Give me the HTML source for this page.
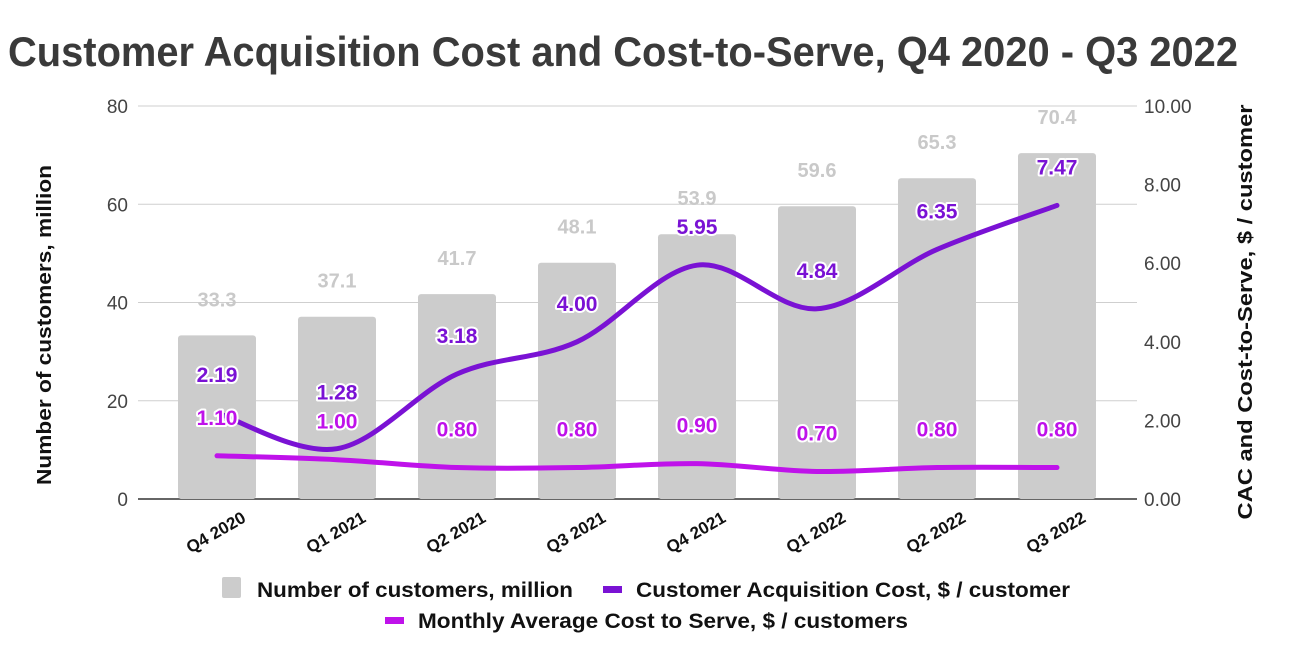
<!DOCTYPE html>
<html><head><meta charset="utf-8"><style>
body{margin:0;background:#fff;}
svg{display:block;font-family:"Liberation Sans",sans-serif;}
</style></head><body>
<svg id="chart" width="1292" height="667" viewBox="0 0 1292 667" xmlns="http://www.w3.org/2000/svg">
<text x="8" y="66" font-size="42" font-weight="bold" fill="#3a3a3a" textLength="1230" lengthAdjust="spacingAndGlyphs">Customer Acquisition Cost and Cost-to-Serve, Q4 2020 - Q3 2022</text>
<g id="grid"></g><g id="bars"></g><g id="lines"></g><g id="labels"></g><g id="axes"></g>
<text transform="translate(51,325) rotate(-90)" text-anchor="middle" font-size="20" font-weight="bold" fill="#111" textLength="320" lengthAdjust="spacingAndGlyphs">Number of customers, million</text>
<text transform="translate(1252,312) rotate(-90)" text-anchor="middle" font-size="20" font-weight="bold" fill="#111" textLength="415" lengthAdjust="spacingAndGlyphs">CAC and Cost-to-Serve, $ / customer</text>
<g>
<rect x="222" y="577" width="19" height="21" rx="2" fill="#cccccc"/>
<text x="257" y="597" font-size="21" font-weight="bold" fill="#111" textLength="316" lengthAdjust="spacingAndGlyphs">Number of customers, million</text>
<rect x="603" y="586" width="19" height="7" fill="#7a12d4"/>
<text x="636" y="597" font-size="21" font-weight="bold" fill="#111" textLength="434" lengthAdjust="spacingAndGlyphs">Customer Acquisition Cost, $ / customer</text>
<rect x="385" y="617" width="19" height="7" fill="#bf12ea"/>
<text x="418" y="628" font-size="21" font-weight="bold" fill="#111" textLength="490" lengthAdjust="spacingAndGlyphs">Monthly Average Cost to Serve, $ / customers</text>
</g>
</svg>
<script>
const categories=["Q4 2020","Q1 2021","Q2 2021","Q3 2021","Q4 2021","Q1 2022","Q2 2022","Q3 2022"];
const customers=[33.3,37.1,41.7,48.1,53.9,59.6,65.3,70.4];
const cac=[2.19,1.28,3.18,4.00,5.95,4.84,6.35,7.47];
const costToServe=[1.10,1.00,0.80,0.80,0.90,0.70,0.80,0.80];
const leftTicks=[0,20,40,60,80];
const rightTicks=["0.00","2.00","4.00","6.00","8.00","10.00"];
const NS="http://www.w3.org/2000/svg";
const X0=138,X1=1137,Y0=499,Y1=106;
const band=120;
const xc=i=>217+band*i;
const yL=v=>Y0-(v/80)*(Y0-Y1);
const yR=v=>Y0-(v/10)*(Y0-Y1);
function mk(tag,attrs,parent,text){const e=document.createElementNS(NS,tag);for(const k in attrs)e.setAttribute(k,attrs[k]);if(text!==undefined)e.textContent=text;document.getElementById(parent).appendChild(e);return e;}
leftTicks.forEach(t=>{
  const l=mk('line',{x1:X0,x2:X1,y1:yL(t),y2:yL(t),stroke:t===0?'#333':'#cfcfcf','stroke-width':t===0?1.5:1},'grid');
  
  
  const tx=mk('text',{x:128,y:yL(t)+7,'text-anchor':'end','font-size':19,fill:'#444'},'axes',String(t));
  
  
});
rightTicks.forEach(t=>{
  const tx=mk('text',{x:1144,y:yR(parseFloat(t))+7,'font-size':19,fill:'#444'},'axes',t);
  
  
});
categories.forEach((c,i)=>{
  const b=mk('rect',{x:xc(i)-39,y:yL(customers[i]),width:78,height:Y0-yL(customers[i]),rx:3,fill:'#cccccc'},'bars');
  
  
  const bl=mk('text',{x:xc(i),y:yL(customers[i])-29,'text-anchor':'middle','font-size':20,'font-weight':'bold',fill:'#c9c9c9'},'labels',customers[i].toFixed(1));
  
  
  const xl=mk('text',{transform:`translate(${xc(i)+30},${521}) rotate(-30)`,'text-anchor':'end','font-size':17,'font-weight':'bold',fill:'#111'},'axes',c);
  
  
});
function smooth(pts){let d=`M${pts[0][0]},${pts[0][1]}`;for(let i=0;i<pts.length-1;i++){const p0=pts[Math.max(0,i-1)],p1=pts[i],p2=pts[i+1],p3=pts[Math.min(pts.length-1,i+2)];const c1=[p1[0]+(p2[0]-p0[0])/6,p1[1]+(p2[1]-p0[1])/6],c2=[p2[0]-(p3[0]-p1[0])/6,p2[1]-(p3[1]-p1[1])/6];d+=` C${c1[0]},${c1[1]} ${c2[0]},${c2[1]} ${p2[0]},${p2[1]}`;}return d;}
const p1=mk('path',{d:smooth(costToServe.map((v,i)=>[xc(i),yR(v)])),fill:'none',stroke:'#bf12ea','stroke-width':5,'stroke-linecap':'round'},'lines');


const p2=mk('path',{d:smooth(cac.map((v,i)=>[xc(i),yR(v)])),fill:'none',stroke:'#7a12d4','stroke-width':5,'stroke-linecap':'round'},'lines');


costToServe.forEach((v,i)=>{
  const cy=yR(v)-31;
  const t=mk('text',{x:xc(i),y:cy,'text-anchor':'middle','font-size':21,'font-weight':'bold',fill:'#bf12ea',stroke:'#fff','stroke-width':4,'paint-order':'stroke','stroke-linejoin':'round'},'labels',v.toFixed(2));
  
  
  let ay=yR(cac[i])-31;
  if(Math.abs(ay-cy)<28) ay=cy-29;
  const a=mk('text',{x:xc(i),y:ay,'text-anchor':'middle','font-size':21,'font-weight':'bold',fill:'#7a12d4',stroke:'#fff','stroke-width':4,'paint-order':'stroke','stroke-linejoin':'round'},'labels',cac[i].toFixed(2));
  
  
});
</script>
</body></html>
